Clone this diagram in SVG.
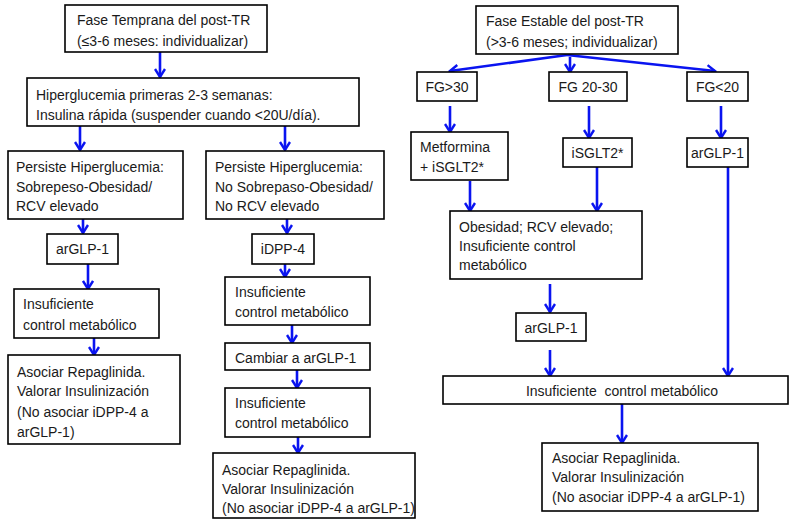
<svg xmlns="http://www.w3.org/2000/svg" width="790" height="520" viewBox="0 0 790 520">
<style>
.b{fill:#fff;stroke:#000;stroke-width:1.6}
.t{font-family:"Liberation Sans",Arial,sans-serif;font-size:14px;fill:#1a1a1a}
.c{stroke:#0a14f0;stroke-width:2.6;fill:none}
</style>
<defs>
<marker id="ah" viewBox="0 0 12 12" refX="10" refY="6" markerWidth="12" markerHeight="12" markerUnits="userSpaceOnUse" orient="auto">
<path d="M2,1 L10,6 L2,11" fill="none" stroke="#0a14f0" stroke-width="2.4"/>
</marker>
</defs>
<rect width="790" height="520" fill="#fff"/>
<g id="connectors">
<line class="c" x1="160" y1="52" x2="160" y2="77" marker-end="url(#ah)"/>
<line class="c" x1="80" y1="126" x2="80" y2="150" marker-end="url(#ah)"/>
<line class="c" x1="285" y1="126" x2="285" y2="150" marker-end="url(#ah)"/>
<line class="c" x1="83" y1="219" x2="83" y2="233" marker-end="url(#ah)"/>
<line class="c" x1="287" y1="219" x2="287" y2="233" marker-end="url(#ah)"/>
<line class="c" x1="88" y1="264" x2="88" y2="289" marker-end="url(#ah)"/>
<line class="c" x1="94" y1="338" x2="94" y2="355" marker-end="url(#ah)"/>
<line class="c" x1="285" y1="264" x2="285" y2="277" marker-end="url(#ah)"/>
<line class="c" x1="292" y1="325" x2="292" y2="343" marker-end="url(#ah)"/>
<line class="c" x1="297" y1="370" x2="297" y2="388" marker-end="url(#ah)"/>
<line class="c" x1="298" y1="437" x2="298" y2="453" marker-end="url(#ah)"/>
<line class="c" x1="567" y1="55" x2="450" y2="71" marker-end="url(#ah)"/>
<line class="c" x1="570" y1="57" x2="570" y2="72" marker-end="url(#ah)"/>
<line class="c" x1="567" y1="55" x2="715" y2="71" marker-end="url(#ah)"/>
<line class="c" x1="450" y1="106" x2="450" y2="132" marker-end="url(#ah)"/>
<line class="c" x1="589" y1="106" x2="589" y2="138" marker-end="url(#ah)"/>
<line class="c" x1="721" y1="106" x2="721" y2="138" marker-end="url(#ah)"/>
<line class="c" x1="470" y1="181" x2="470" y2="211" marker-end="url(#ah)"/>
<line class="c" x1="597" y1="167" x2="597" y2="211" marker-end="url(#ah)"/>
<line class="c" x1="728" y1="167" x2="728" y2="376" marker-end="url(#ah)"/>
<line class="c" x1="550" y1="284" x2="550" y2="312" marker-end="url(#ah)"/>
<line class="c" x1="550" y1="350" x2="550" y2="376" marker-end="url(#ah)"/>
<line class="c" x1="622" y1="404" x2="622" y2="443" marker-end="url(#ah)"/>
</g>
<g id="n1"><rect class="b" x="65" y="5" width="202" height="47"/>
<text class="t" x="77" y="25">Fase Temprana del post-TR</text><text class="t" x="77" y="46">(≤3-6 meses: individualizar)</text></g>
<g id="n2"><rect class="b" x="27" y="78" width="332" height="48"/>
<text class="t" x="36" y="100">Hiperglucemia primeras 2-3 semanas:</text><text class="t" x="36" y="120">Insulina rápida (suspender cuando &lt;20U/día).</text></g>
<g id="n3"><rect class="b" x="8" y="151" width="175" height="68"/>
<text class="t" x="16" y="172">Persiste Hiperglucemia:</text><text class="t" x="16" y="192">Sobrepeso-Obesidad/</text><text class="t" x="16" y="211">RCV elevado</text></g>
<g id="n4"><rect class="b" x="206" y="151" width="178" height="68"/>
<text class="t" x="215" y="172">Persiste Hiperglucemia:</text><text class="t" x="215" y="192">No Sobrepaso-Obesidad/</text><text class="t" x="215" y="211">No RCV elevado</text></g>
<g id="n5"><rect class="b" x="47" y="234" width="71" height="30"/>
<text class="t" x="82.5" y="254" text-anchor="middle">arGLP-1</text></g>
<g id="n6"><rect class="b" x="252" y="234" width="62" height="30"/>
<text class="t" x="283" y="254" text-anchor="middle">iDPP-4</text></g>
<g id="n7"><rect class="b" x="14" y="289" width="145" height="49"/>
<text class="t" x="23" y="309">Insuficiente</text><text class="t" x="23" y="330">control metabólico</text></g>
<g id="n8"><rect class="b" x="8" y="355" width="172" height="89"/>
<text class="t" x="17" y="377">Asociar Repaglinida.</text><text class="t" x="17" y="396">Valorar Insulinización</text><text class="t" x="17" y="417">(No asociar iDPP-4 a</text><text class="t" x="17" y="437">arGLP-1)</text></g>
<g id="n9"><rect class="b" x="225" y="277" width="145" height="48"/>
<text class="t" x="235" y="297">Insuficiente</text><text class="t" x="235" y="317">control metabólico</text></g>
<g id="n10"><rect class="b" x="225" y="343" width="145" height="27"/>
<text class="t" x="235" y="363">Cambiar a arGLP-1</text></g>
<g id="n11"><rect class="b" x="225" y="388" width="145" height="49"/>
<text class="t" x="235" y="408">Insuficiente</text><text class="t" x="235" y="428">control metabólico</text></g>
<g id="n12"><rect class="b" x="213" y="453" width="202" height="65"/>
<text class="t" x="222" y="475">Asociar Repaglinida.</text><text class="t" x="222" y="494">Valorar Insulinización</text><text class="t" x="222" y="513">(No asociar iDPP-4 a arGLP-1)</text></g>
<g id="n13"><rect class="b" x="476" y="6" width="202" height="48"/>
<text class="t" x="486" y="26">Fase Estable del post-TR</text><text class="t" x="486" y="47">(&gt;3-6 meses; individualizar)</text></g>
<g id="n14"><rect class="b" x="417" y="72" width="60" height="29"/>
<text class="t" x="447" y="92" text-anchor="middle">FG&gt;30</text></g>
<g id="n15"><rect class="b" x="549" y="72" width="78" height="29"/>
<text class="t" x="588" y="92" text-anchor="middle">FG 20-30</text></g>
<g id="n16"><rect class="b" x="687" y="72" width="61" height="29"/>
<text class="t" x="717.5" y="92" text-anchor="middle">FG&lt;20</text></g>
<g id="n17"><rect class="b" x="411" y="132" width="97" height="48"/>
<text class="t" x="420" y="152">Metformina</text><text class="t" x="420" y="172">+ iSGLT2*</text></g>
<g id="n18"><rect class="b" x="563" y="138" width="69" height="29"/>
<text class="t" x="597.5" y="158" text-anchor="middle">iSGLT2*</text></g>
<g id="n19"><rect class="b" x="687" y="138" width="61" height="29"/>
<text class="t" x="717.5" y="158" text-anchor="middle">arGLP-1</text></g>
<g id="n20"><rect class="b" x="450" y="211" width="192" height="68"/>
<text class="t" x="459" y="232">Obesidad; RCV elevado;</text><text class="t" x="459" y="251">Insuficiente control</text><text class="t" x="459" y="270">metabólico</text></g>
<g id="n21"><rect class="b" x="516" y="313" width="70" height="28"/>
<text class="t" x="551" y="333" text-anchor="middle">arGLP-1</text></g>
<g id="n22"><rect class="b" x="443" y="376" width="345" height="28"/>
<text class="t" x="622" y="396" text-anchor="middle" xml:space="preserve">Insuficiente  control metabólico</text></g>
<g id="n23"><rect class="b" x="542" y="443" width="216" height="68"/>
<text class="t" x="552" y="463">Asociar Repaglinida.</text><text class="t" x="552" y="482">Valorar Insulinización</text><text class="t" x="552" y="502">(No asociar iDPP-4 a arGLP-1)</text></g>
</svg>
